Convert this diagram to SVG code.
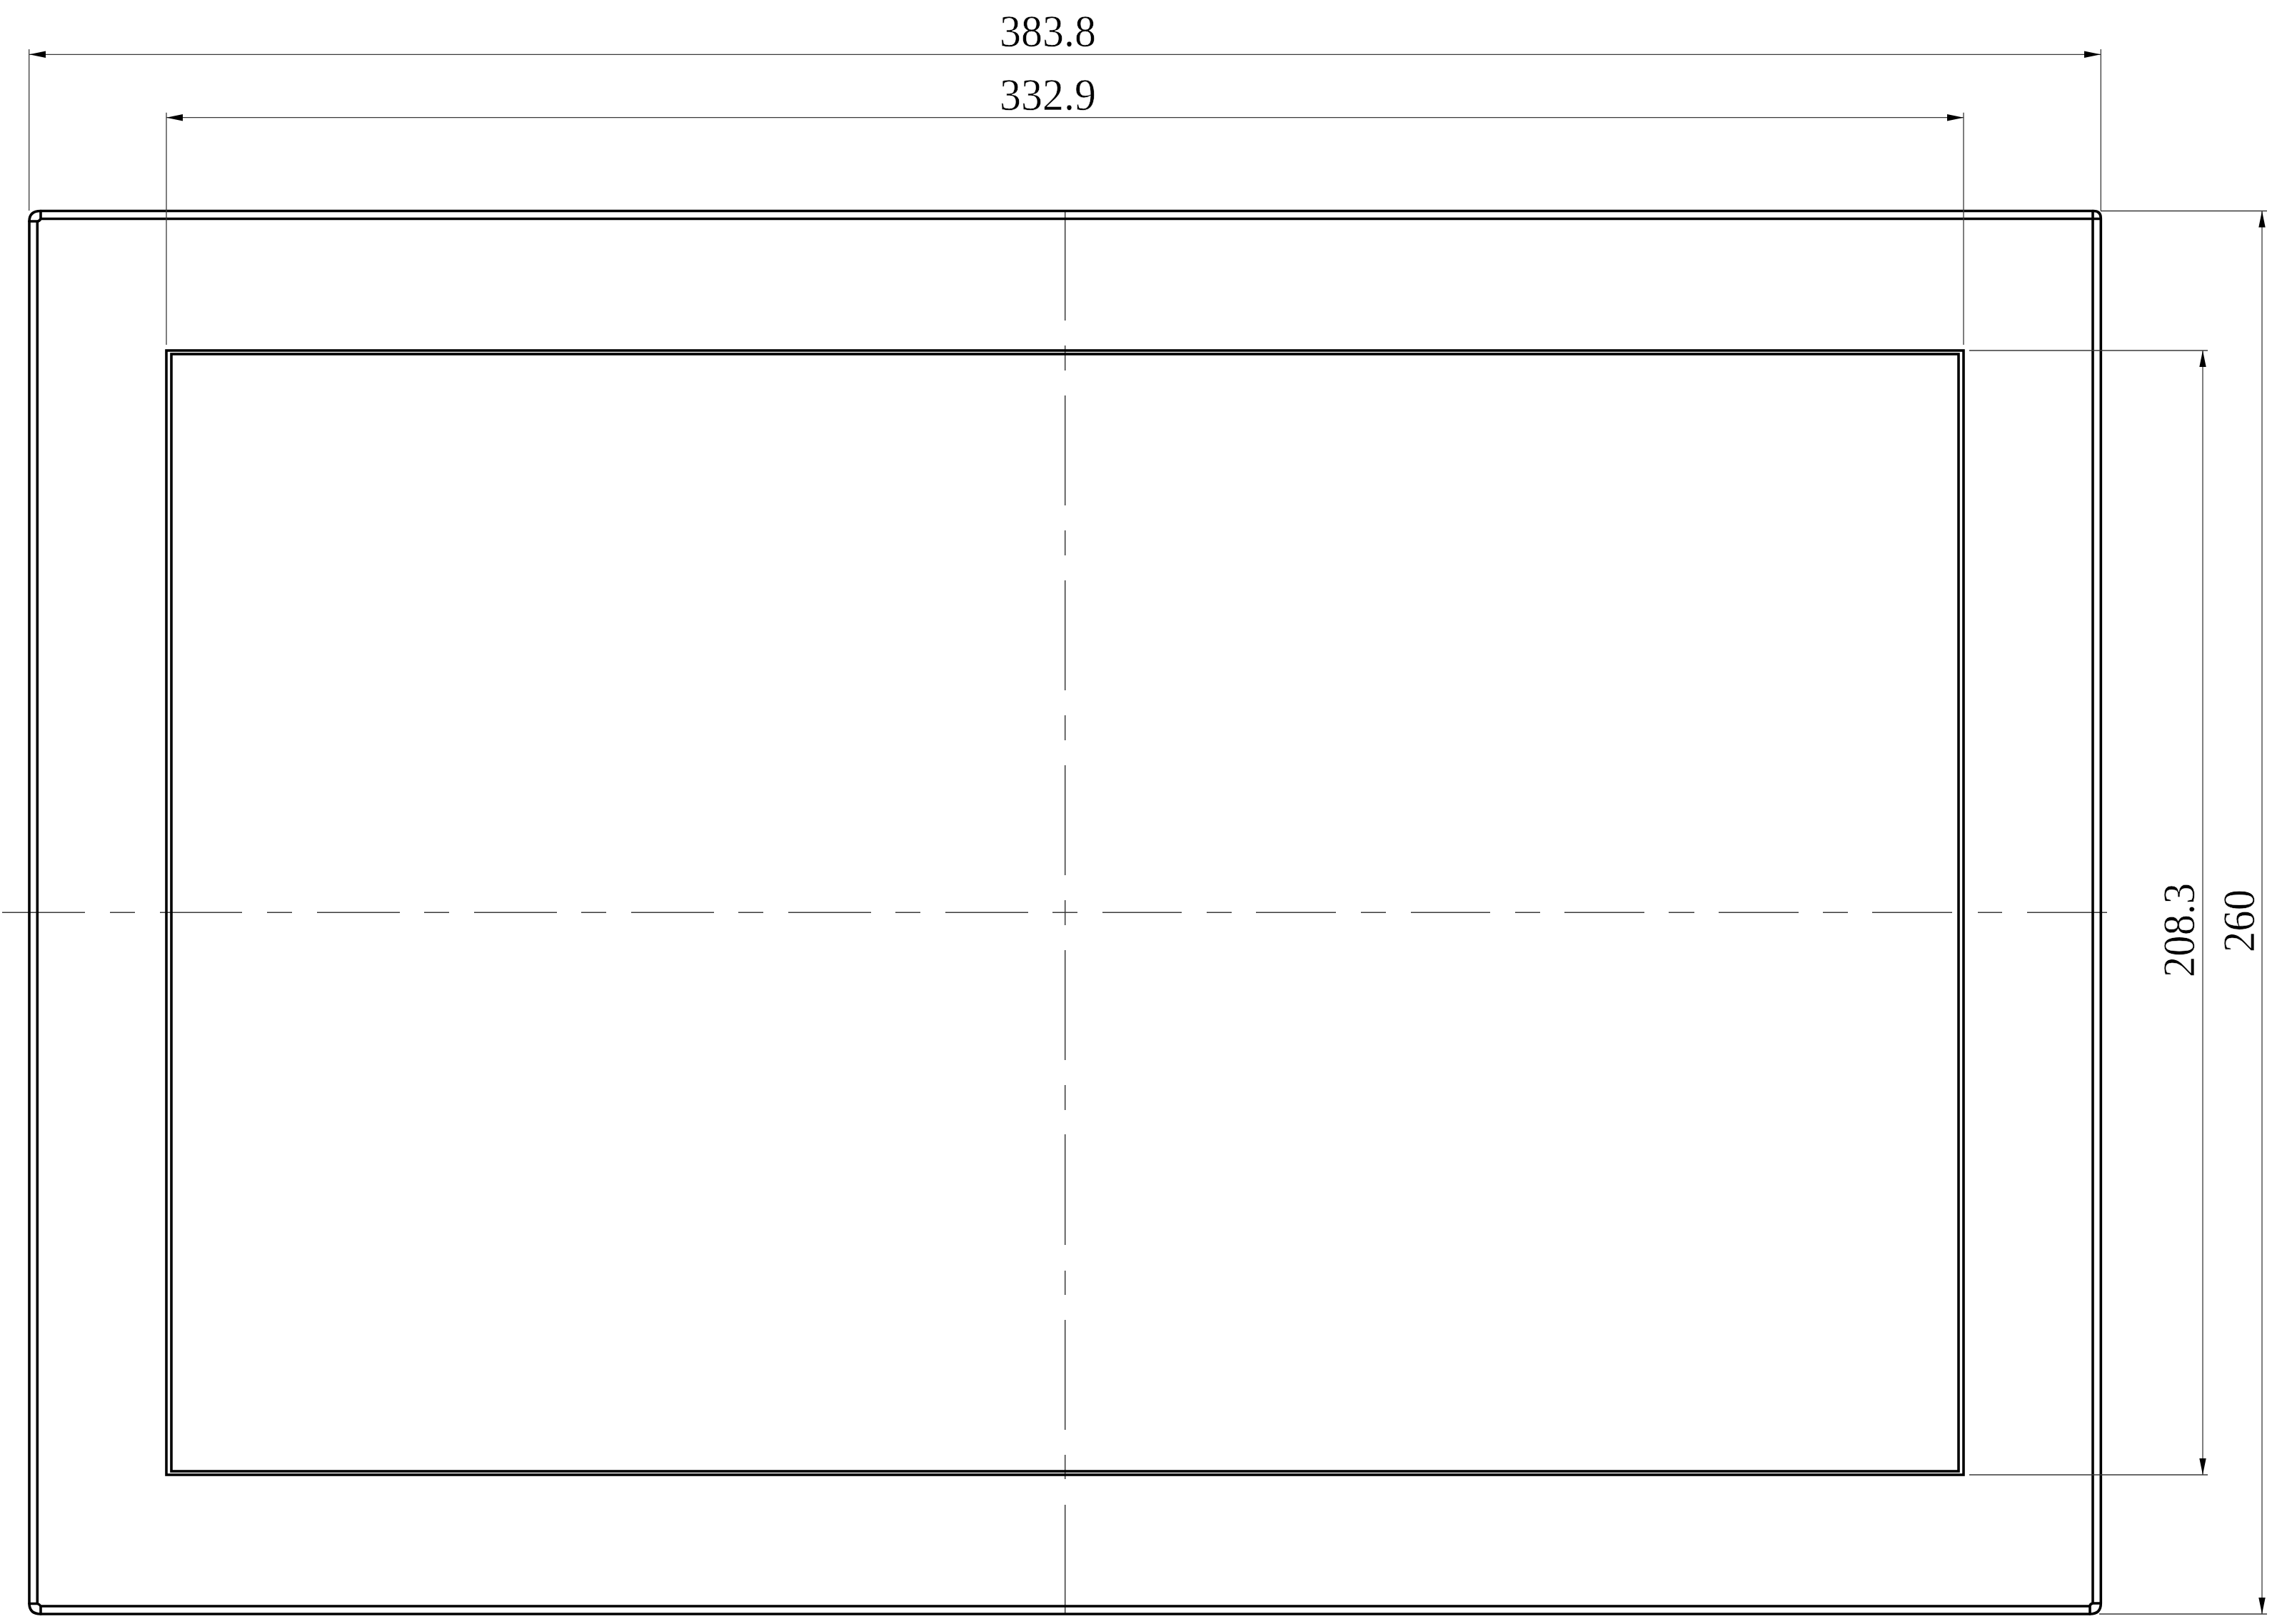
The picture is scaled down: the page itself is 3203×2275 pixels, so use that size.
<svg xmlns="http://www.w3.org/2000/svg" width="3203" height="2275" viewBox="0 0 3203 2275">
<style>
.b{fill:none;stroke:#000;stroke-width:3.6;stroke-linecap:round;stroke-linejoin:round}
.w{fill:none;stroke:#000;stroke-width:3.6;stroke-linejoin:miter}
.t{fill:none;stroke:#3a3a3a;stroke-width:1.3}
.c{fill:none;stroke:#3a3a3a;stroke-width:1.5}
.d{fill:none;stroke:#3a3a3a;stroke-width:1.3;marker-start:url(#a);marker-end:url(#a)}
text{font-family:"Liberation Serif",serif;font-size:64px;fill:#000;stroke:#fff;stroke-width:.6}
</style>
<defs>
<marker id="a" markerUnits="userSpaceOnUse" markerWidth="24" markerHeight="10" refX="23" refY="5" orient="auto-start-reverse" overflow="visible"><path d="M0 .3L23 5L0 9.700Z" fill="#000"/></marker>
</defs>
<rect width="3203" height="2275" fill="#fff"/>
<g id="centerlines">
<path class="c" d="M3 1278.300H119M154 1278.300H189M224 1278.300H339M374 1278.300H409M444 1278.300H560M594 1278.300H629M664 1278.300H780M814 1278.300H849M884 1278.300H1000M1034 1278.300H1069M1104 1278.300H1220M1254 1278.300H1289M1324 1278.300H1440M1474 1278.300H1509M1544 1278.300H1655M1690 1278.300H1725M1759 1278.300H1871M1906 1278.300H1941M1976 1278.300H2087M2122 1278.300H2157M2191 1278.300H2303M2337 1278.300H2373M2407 1278.300H2519M2553 1278.300H2588M2622 1278.300H2734M2770 1278.300H2804M2839 1278.300H2951"/>
<path class="c" d="M1491.700 295V449M1491.700 484V519M1491.700 554V708M1491.700 743V778M1491.700 813V967M1491.700 1002V1037M1491.700 1072V1226M1491.700 1261V1296M1491.700 1331V1485M1491.700 1520V1555M1491.700 1589V1744M1491.700 1780V1814M1491.700 1849V2003M1491.700 2038V2072M1491.700 2108V2260"/>
</g>
<g id="frame">
<path class="b" d="M57 295.500H2932Q2942.300 295.500 2942.300 306V2246Q2942.300 2261 2927 2261H57Q41 2261 41 2246V310Q41 295.500 57 295.500Z"/>
<path class="b" d="M57 295.500V306.500M52.300 310H41M52.300 310Q55 310 57 306.500M57 306.500H2942M52.300 310V2246.500M2931 295.500V2246M2931 2246H2942M2931 2246Q2927 2247 2927 2250V2261M2927 2250H57M57 2250V2261M57 2250Q55 2247 52.300 2246.500H41"/>
</g>
<g id="window">
<rect class="w" x="233" y="491" width="2517" height="1575"/>
<rect class="w" x="240" y="496" width="2503" height="1565"/>
</g>
<g id="dimensions">
<path class="t" d="M40.700 69V295M2942.300 69V295.500M233 157.700V483M2750 157.700V483M2942 295.500H3175M2758 491H3092M2758 2066H3092M2940 2261H3175"/>
<path class="d" d="M41 76.300H2942"/>
<path class="d" d="M233 164.700H2750"/>
<path class="d" d="M3085 491V2066"/>
<path class="d" d="M3168 295.500V2261"/>
</g>
<g id="labels">
<text x="1400" y="64.500" textLength="135" lengthAdjust="spacingAndGlyphs">383.8</text>
<text x="1400" y="153.500" textLength="135" lengthAdjust="spacingAndGlyphs">332.9</text>
<text transform="translate(3073 1369) rotate(-90)" textLength="132" lengthAdjust="spacingAndGlyphs">208.3</text>
<text transform="translate(3157 1334) rotate(-90)" textLength="88" lengthAdjust="spacingAndGlyphs">260</text>
</g>
</svg>
